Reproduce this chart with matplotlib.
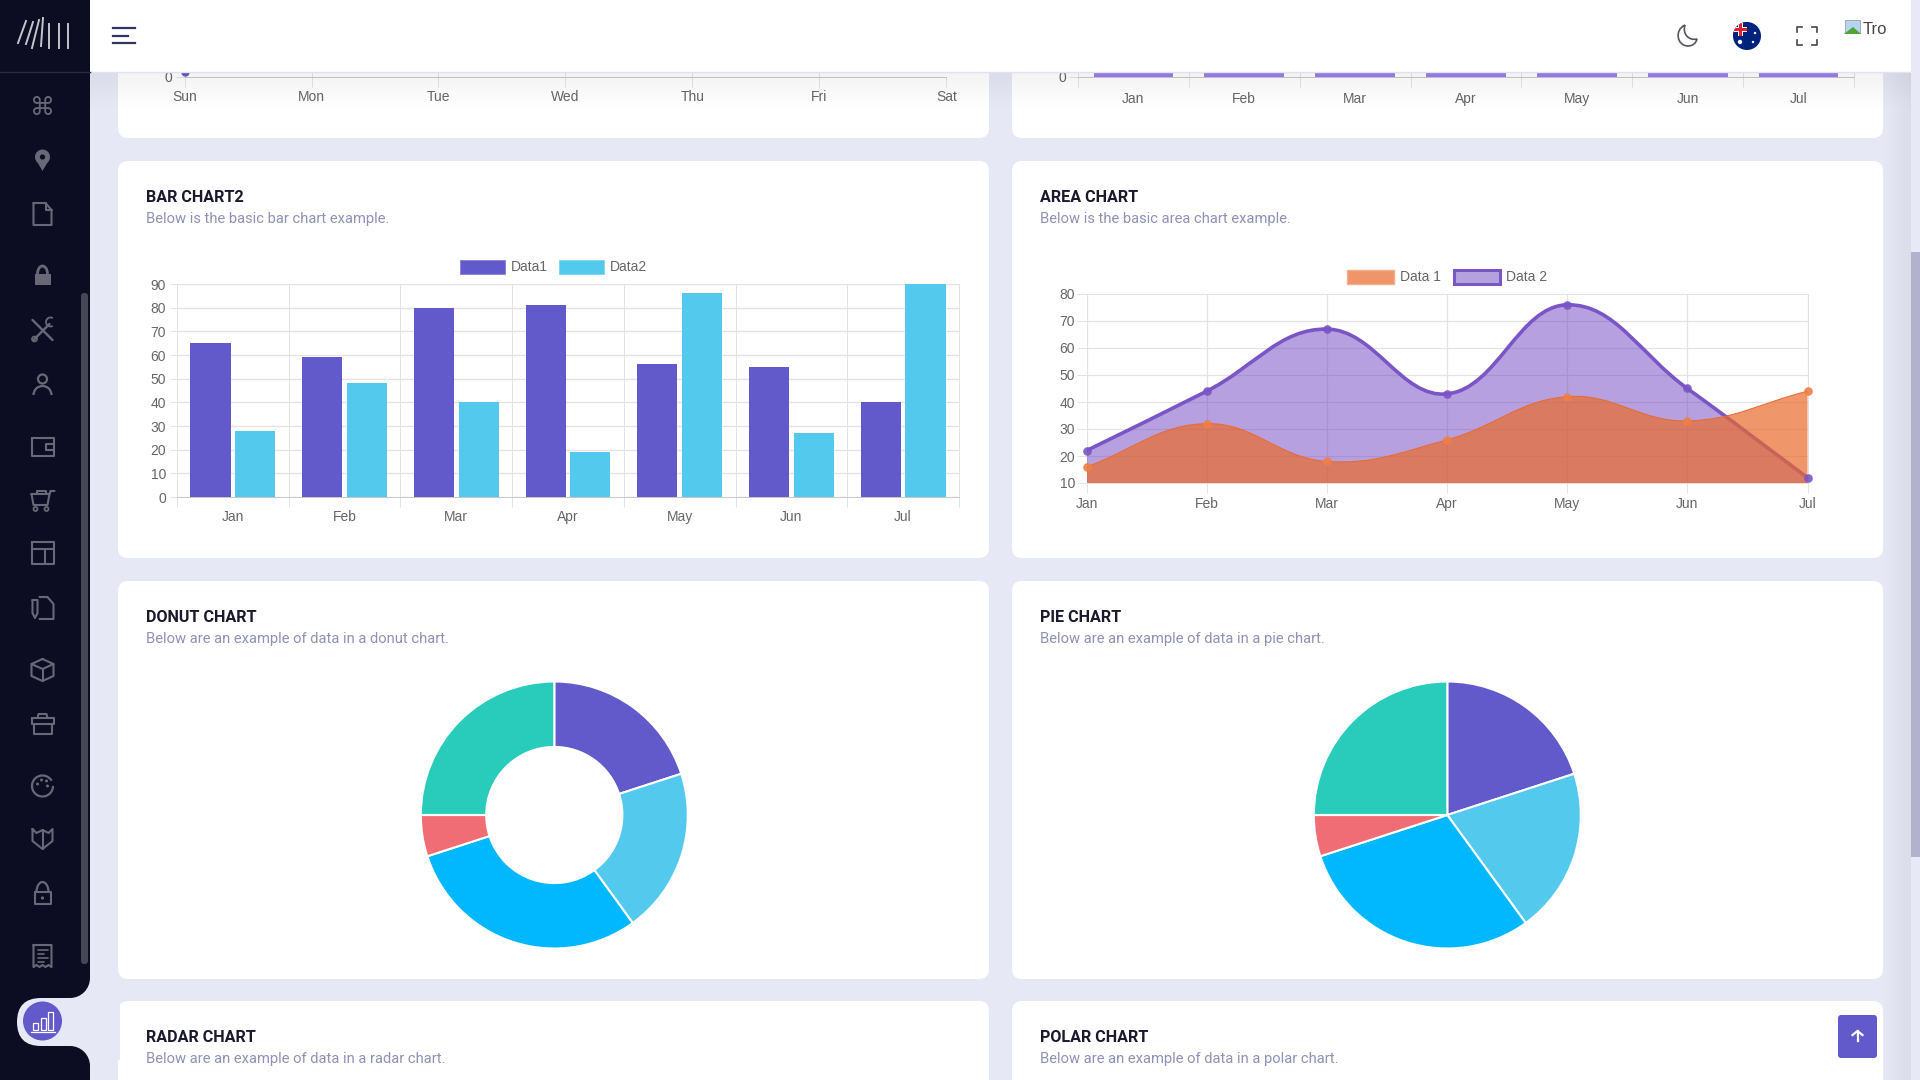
import numpy as np
import matplotlib
matplotlib.use('Agg')
import matplotlib.pyplot as plt
from matplotlib.patches import Rectangle, Circle, FancyBboxPatch, PathPatch, Polygon, Arc
from matplotlib.path import Path

W, H = 1920, 1080

# chart values
months = ['Jan', 'Feb', 'Mar', 'Apr', 'May', 'Jun', 'Jul']
weekdays = ['Sun', 'Mon', 'Tue', 'Wed', 'Thu', 'Fri', 'Sat']
bar_data1 = [65, 59, 80, 81, 56, 55, 40]
bar_data2 = [28, 48, 40, 19, 86, 27, 90]
area_data1 = [16, 32, 18, 26, 42, 33, 44]
area_data2 = [22, 44, 67, 43, 76, 45, 12]
pie_values = [20, 20, 30, 5, 25]
pie_colors = ['#6259ca', '#53caed', '#01b8ff', '#f16d75', '#29ccbb']
top_bars = [65, 59, 80, 81, 56, 55, 40]   # only the foot of these shows
top_point = [5]

BG = '#e6e9f5'
SIDE = '#0c0d22'
PURPLE = '#6259ca'
CYAN = '#53caed'
GRID = '#e3e3e3'
TICK = '#666666'
ICON = '#686876'
SANS = 'Liberation Sans'
PX = 0.72  # one pixel in points at dpi 100

fig = plt.figure(figsize=(W/100, H/100), dpi=100, facecolor=BG)


def px_axes(left, top, right, bottom, z=1):
    ax = fig.add_axes([left/W, 1-bottom/H, (right-left)/W, (bottom-top)/H], zorder=z)
    ax.patch.set_alpha(0)
    return ax


def overlay(z):
    ax = fig.add_axes([0, 0, 1, 1], zorder=z)
    ax.set_xlim(0, W)
    ax.set_ylim(H, 0)
    ax.axis('off')
    return ax


def card(ax, left, top, right, bottom):
    ax.add_patch(FancyBboxPatch((left, top), right-left, bottom-top, boxstyle='round,pad=0,rounding_size=10',
                                fc='white', ec='none'))


def heading(ax, x, y, title, sub):
    ax.text(x, y+1.5, title, family='Roboto', weight='bold', fontsize=11.6, color='#1a1a2c', va='center')
    ax.text(x, y+23.5, sub, family='Roboto', fontsize=10.6, color='#8f91b5', va='center')


def style_axes(ax):
    for s in ax.spines.values():
        s.set_color(GRID)
        s.set_linewidth(PX)
    ax.set_axisbelow(True)
    ax.tick_params(axis='both', color=GRID, width=PX, labelcolor=TICK, labelsize=10)
    for lab in ax.get_xticklabels(which='both') + ax.get_yticklabels():
        lab.set_family(SANS)


def category_axis(ax, labels, pad=9.7):
    # gridlines on the category edges, labels in the middle
    n = len(labels)
    ax.set_xlim(-0.5, n-0.5)
    ax.set_xticks(np.arange(n+1)-0.5)
    ax.set_xticklabels([])
    ax.set_xticks(np.arange(n), minor=True)
    ax.set_xticklabels(labels, minor=True)
    ax.tick_params(axis='x', which='major', length=7.2)
    ax.tick_params(axis='x', which='minor', length=0, pad=pad, labelsize=10, labelcolor=TICK)
    ax.grid(True, which='major', color=GRID, lw=PX)


def spline_path(xs, ys, sx, sy, tension=0.4):
    # same bezier handles chart.js works out, distances measured in pixels
    xs = np.array(xs, float)
    ys = np.array(ys, float)
    n = len(xs)
    verts = [(xs[0], ys[0])]
    codes = [Path.MOVETO]
    cp_in = []
    cp_out = []
    for i in range(n):
        p = max(i-1, 0)
        q = min(i+1, n-1)
        d01 = np.hypot((xs[i]-xs[p])*sx, (ys[i]-ys[p])*sy)
        d12 = np.hypot((xs[q]-xs[i])*sx, (ys[q]-ys[i])*sy)
        total = d01 + d12
        fa = tension*d01/total
        fb = tension*d12/total
        cp_in.append((xs[i]-fa*(xs[q]-xs[p]), ys[i]-fa*(ys[q]-ys[p])))
        cp_out.append((xs[i]+fb*(xs[q]-xs[p]), ys[i]+fb*(ys[q]-ys[p])))
    for i in range(n-1):
        verts += [cp_out[i], cp_in[i+1], (xs[i+1], ys[i+1])]
        codes += [Path.CURVE4]*3
    return verts, codes


def legend_item(ax, x0, x1, y0, y1, fc, ec, lw, label, tx):
    ax.add_patch(Rectangle((x0, y0), x1-x0, y1-y0, fc=fc, ec=ec, lw=lw))
    ax.text(tx, (y0+y1)/2, label, family=SANS, fontsize=10, color=TICK, va='center')


base = overlay(0)

# cards
for l, r in [(118, 989), (1012, 1883)]:
    card(base, l, 40, r, 138)
    card(base, l, 161, r, 558)
    card(base, l, 581, r, 979)
    card(base, l, 1001, r, 1200)

heading(base, 146.5, 196, 'BAR CHART2', 'Below is the basic bar chart example.')
heading(base, 1040, 196, 'AREA CHART', 'Below is the basic area chart example.')
heading(base, 146.5, 616, 'DONUT CHART', 'Below are an example of data in a donut chart.')
heading(base, 1040, 616, 'PIE CHART', 'Below are an example of data in a pie chart.')
heading(base, 146.5, 1036, 'RADAR CHART', 'Below are an example of data in a radar chart.')
heading(base, 1040, 1036, 'POLAR CHART', 'Below are an example of data in a polar chart.')

# line chart cut off by the header
ax = px_axes(184.5, 72, 946.5, 77)
ax.plot([0], top_point, 'o', color=PURPLE, ms=5, clip_on=False)
ax.set_xlim(0, 6)
ax.set_ylim(0, 5)
ax.set_xticks(range(7))
ax.set_xticklabels(weekdays)
ax.set_yticks([0])
ax.set_yticklabels(['0'])
ax.grid(True, axis='x', color=GRID, lw=PX)
style_axes(ax)
ax.spines['bottom'].set_color('#c9c9c9')
ax.spines['top'].set_visible(False)
ax.spines['left'].set_visible(False)
ax.spines['right'].set_visible(False)
ax.tick_params(axis='x', length=7.2, pad=2.2)
ax.tick_params(axis='y', length=6.5, pad=2)

# bar chart cut off by the header
ax = px_axes(1078, 72, 1854, 77)
ax.bar(range(7), top_bars, width=0.72, color='#9b7ff0', zorder=3)
category_axis(ax, months, pad=11)
ax.set_ylim(0, 5)
ax.set_yticks([0])
ax.set_yticklabels(['0'])
style_axes(ax)
ax.spines['bottom'].set_color('#c9c9c9')
ax.spines['top'].set_visible(False)
ax.tick_params(axis='y', length=6.5, pad=2)

# bar chart 2
ax = px_axes(177, 284, 959, 497)
x = np.arange(len(months))
ax.bar(x-0.2, bar_data1, width=0.36, color=PURPLE, zorder=3)
ax.bar(x+0.2, bar_data2, width=0.36, color=CYAN, zorder=3)
category_axis(ax, months)
ax.set_ylim(0, 90)
ax.set_yticks(range(0, 100, 10))
ax.grid(True, axis='y', color=GRID, lw=PX*1.3)
style_axes(ax)
ax.spines['bottom'].set_color('#c9c9c9')
ax.tick_params(axis='y', length=5, pad=3)
legend_item(base, 459.5, 504.5, 260, 274, PURPLE, '#8d86dc', 0.7, 'Data1', 511)
legend_item(base, 558.5, 603.5, 260, 274, CYAN, '#7fd9f2', 0.7, 'Data2', 610)

# area chart
ax = px_axes(1086.5, 294, 1807.5, 483)
ax.set_xlim(0, 6)
ax.set_ylim(10, 80)
sx = (1807.5-1086.5)/6
sy = (483-294)/70
xi = list(range(len(months)))
for vals, fill, alpha, line, lw, mc, z in [(area_data2, '#6f42c1', 0.5, '#7a55c5', 3.6*PX, '#7a55c5', 3),
                                           (area_data1, '#ea6a2c', 0.7, '#ea6a2c', PX, '#ef7f45', 4)]:
    v, c = spline_path(xi, vals, sx, sy)
    closed_v = v + [(xi[-1], 10), (xi[0], 10), v[0]]
    closed_c = c + [Path.LINETO, Path.LINETO, Path.CLOSEPOLY]
    ax.add_patch(PathPatch(Path(closed_v, closed_c), fc=fill, ec='none', alpha=alpha, zorder=z))
    ax.add_patch(PathPatch(Path(v, c), fc='none', ec=line, lw=lw, zorder=z, capstyle='round'))
    ax.plot(xi, vals, 'o', color=mc, ms=6.2, mew=0, alpha=0.9, zorder=z+2, clip_on=False)
ax.set_xticks(xi)
ax.set_xticklabels(months)
ax.set_yticks(range(10, 90, 10))
ax.grid(True, color=GRID, lw=PX*1.2)
style_axes(ax)
ax.tick_params(axis='x', length=7.2, pad=3)
ax.tick_params(axis='y', length=7.2, pad=1)
legend_item(base, 1347, 1393.5, 270, 284, '#f0956a', '#f5b08c', 1, 'Data 1', 1400)
legend_item(base, 1454, 1500, 270, 284, '#b5a3dd', '#7a55c5', 2.2, 'Data 2', 1506.5)

# donut and pie
for cx, hole in [(554.3, 0.51), (1447.3, None)]:
    r = 133.5
    ax = px_axes(cx-r, 815-r, cx+r, 815+r)
    props = {'edgecolor': 'white', 'linewidth': 1.5}
    if hole:
        props['width'] = 1-hole
    ax.pie(pie_values, colors=pie_colors, startangle=90, counterclock=False, radius=1,
           wedgeprops=props)
    ax.set_xlim(-1, 1)
    ax.set_ylim(-1, 1)

# page chrome on top of everything
top = overlay(5)

# soft shadow the header throws on the page
shade = np.zeros((40, 1, 4))
shade[:, 0, 3] = np.linspace(0.05, 0, 40)
top.imshow(shade, extent=(90, 1911, 112, 72), aspect='auto', zorder=0)
side_shade = np.zeros((1, 30, 4))
side_shade[0, :, 3] = np.linspace(0, 0.05, 30)
top.imshow(side_shade, extent=(1881, 1911, 1080, 72), aspect='auto', zorder=0)
top.set_xlim(0, W)
top.set_ylim(H, 0)

top.add_patch(Rectangle((90, 0), 1821, 72, fc='white', ec='none', zorder=1))
top.plot([90, 1911], [72, 72], color='#dfe2f2', lw=1, zorder=1)

# right scrollbar
top.add_patch(Rectangle((1911, 0), 9, H, fc='#e8e8f6', ec='none', zorder=1))
top.add_patch(Rectangle((1911, 252), 9, 605, fc='#b2b2cc', ec='none', zorder=1))

# sidebar with the notch around the active item
top.add_patch(Rectangle((0, 0), 90, H, fc=SIDE, ec='none', zorder=1))
top.plot([0, 90], [72, 72], color='#2a2b40', lw=1, zorder=2)
top.add_patch(Rectangle((68, 978), 22, 88, fc=BG, ec='none', zorder=2))
top.add_patch(Circle((70, 978), 20, fc=SIDE, ec='none', zorder=2))
top.add_patch(Circle((70, 1066), 20, fc=SIDE, ec='none', zorder=2))
top.add_patch(FancyBboxPatch((17, 998), 100, 48, boxstyle='round,pad=0,rounding_size=24',
                             fc=BG, ec='none', zorder=2, clip_box=None))
top.add_patch(Rectangle((90, 990), 30, 70, fc=BG, ec='none', zorder=2))
top.add_patch(Circle((42.5, 1021), 19.5, fc=PURPLE, ec='none', zorder=3))
for bx, by in [(33, 1023), (41, 1018), (48, 1012)]:
    top.add_patch(Rectangle((bx, by), 4.5, 1030-by, fc='none', ec='white', lw=0.9, zorder=4))
top.plot([31, 55], [1032, 1032], color='white', lw=0.9, zorder=4)
top.add_patch(FancyBboxPatch((81, 293), 7, 671, boxstyle='round,pad=0,rounding_size=3',
                             fc='#474657', ec='none', zorder=3))

# logo
for (x0, y0), (x1, y1) in [((18, 43), (26, 21)), ((26, 44), (33, 22)), ((32, 48), (39, 20)), ((41, 46), (43, 18)),
                           ((49, 48), (49, 24)), ((59, 48), (59, 24)), ((68, 48), (68, 24))]:
    top.plot([x0, x1], [y0, y1], color='#c4c4cc', lw=1.4, zorder=3)


def stroke(pts, cx, cy, lw=1.5, closed=False):
    xs = [cx+p[0] for p in pts]
    ys = [cy+p[1] for p in pts]
    if closed:
        xs.append(xs[0])
        ys.append(ys[0])
    top.plot(xs, ys, color=ICON, lw=lw, zorder=3, solid_joinstyle='round', solid_capstyle='round')


def solid(pts, cx, cy):
    top.add_patch(Polygon([(cx+p[0], cy+p[1]) for p in pts], fc=ICON, ec='none', zorder=3))


ix = 42.5
top.text(ix, 108, '\u2318', family='DejaVu Sans', fontsize=18, color=ICON, ha='center', va='center', zorder=3)
# pin
top.add_patch(Circle((ix, 157), 7.5, fc=ICON, ec='none', zorder=3))
solid([(-7, 159), (7, 159), (0, 171)], ix, 0)
top.add_patch(Circle((ix, 157), 2.6, fc=SIDE, ec='none', zorder=3))
# file
stroke([(-9, -11), (3, -11), (9, -4), (9, 11), (-9, 11)], ix, 214, closed=True)
stroke([(3, -11), (3, -4), (9, -4)], ix, 214)
# lock
top.add_patch(Rectangle((ix-8, 274), 16, 11, fc=ICON, ec='none', zorder=3))
top.add_patch(Arc((ix, 274), 10, 16, theta1=180, theta2=360, color=ICON, lw=2, zorder=3))
# tools
stroke([(-10, -10), (10, 10)], ix, 330, lw=1.7)
stroke([(-9, 10), (7, -6)], ix, 330, lw=1.7)
top.add_patch(Arc((ix+8, 322), 9, 9, theta1=60, theta2=300, color=ICON, lw=1.3, zorder=3))
top.add_patch(Circle((ix-8, 339), 2.5, fc='none', ec=ICON, lw=1.2, zorder=3))
# person
top.add_patch(Circle((ix, 379), 4.5, fc='none', ec=ICON, lw=1.6, zorder=3))
top.add_patch(Arc((ix, 395), 18, 18, theta1=180, theta2=360, color=ICON, lw=1.6, zorder=3))
# wallet
stroke([(-11, -9), (11, -9), (11, 9), (-11, 9)], ix, 447, closed=True)
stroke([(11, -3), (3, -3), (3, 3), (11, 3)], ix, 447)
# cart
stroke([(-11, -6), (7, -6), (5, 5), (-9, 5)], ix, 500, closed=True)
stroke([(7, -6), (8, -9), (12, -9)], ix, 500)
stroke([(-6, -6), (-6, -9), (3, -9), (3, -6)], ix, 500)
top.add_patch(Circle((ix-7, 509), 2, fc='none', ec=ICON, lw=1.3, zorder=3))
top.add_patch(Circle((ix+4, 509), 2, fc='none', ec=ICON, lw=1.3, zorder=3))
# layout
stroke([(-11, -11), (11, -11), (11, 11), (-11, 11)], ix, 553, closed=True)
stroke([(-11, -4), (11, -4)], ix, 553)
stroke([(2, -4), (2, 11)], ix, 553)
# file with pen
stroke([(-3, -11), (5, -11), (11, -4), (11, 11), (-3, 11)], ix, 608)
stroke([(-10, -8), (-5, -8), (-5, 5), (-7.5, 10), (-10, 5)], ix, 608, closed=True)
# box
stroke([(0, -11), (11, -6), (11, 6), (0, 11), (-11, 6), (-11, -6)], ix, 670, closed=True)
stroke([(-11, -6), (0, -1), (11, -6)], ix, 670)
stroke([(0, -1), (0, 11)], ix, 670)
# briefcase
stroke([(-11, -6), (11, -6), (11, 0), (-11, 0)], ix, 724, closed=True)
stroke([(-9, 0), (-9, 10), (9, 10), (9, 0)], ix, 724)
stroke([(-5, -6), (-4, -10), (4, -10), (5, -6)], ix, 724)
# palette
top.add_patch(Arc((ix, 786), 21, 21, theta1=0, theta2=330, color=ICON, lw=1.6, zorder=3))
for dx, dy in [(-5, -2), (-1, -6), (4, -5), (5, 0)]:
    top.add_patch(Circle((ix+dx, 786+dy), 1.5, fc=ICON, ec='none', zorder=3))
# shield
stroke([(-10, -10), (-6, -6), (0, -9), (6, -6), (10, -10), (10, 2), (0, 10), (-10, 2)], ix, 839, closed=True)
stroke([(0, -9), (0, 10)], ix, 839)
# padlock
stroke([(-8, -2), (8, -2), (8, 10), (-8, 10)], ix, 894, closed=True)
top.add_patch(Arc((ix, -2+894), 12, 20, theta1=180, theta2=360, color=ICON, lw=1.6, zorder=3))
top.add_patch(Circle((ix, 898), 1.6, fc=ICON, ec='none', zorder=3))
# receipt
stroke([(-9, -11), (9, -11), (9, 11), (6, 9), (3, 11), (0, 9), (-3, 11), (-6, 9), (-9, 11)], ix, 956, closed=True)
for dy, hw in [(-6, 5), (-2, 3), (2, 5), (6, 3)]:
    stroke([(-5, dy), (-5+2*hw, dy)], ix, 956, lw=1.2)

# hamburger
for y, x1 in [(28, 135), (35.6, 128), (42.7, 135)]:
    top.plot([113, x1], [y, y], color='#2e3560', lw=1.6, zorder=3)

# moon
moon = Path([(1685, 25), (1674, 30), (1677, 46), (1688, 46), (1693, 46), (1696, 43), (1697, 39),
             (1689, 41), (1682, 34), (1685, 25)],
            [Path.MOVETO] + [Path.CURVE4]*9)
top.add_patch(PathPatch(moon, fc='none', ec='#55555f', lw=1.2, zorder=3))

# flag
disc = Circle((1747, 36), 14, fc='#00247d', ec='none', zorder=3)
top.add_patch(disc)
parts = [Rectangle((1733, 22), 14, 14, fc='#00247d', zorder=4),
         Rectangle((1733, 27), 14, 5, fc='white', zorder=4),
         Rectangle((1738, 22), 5, 14, fc='white', zorder=4),
         Rectangle((1733, 28), 14, 3, fc='#e0202c', zorder=5),
         Rectangle((1739, 22), 3, 14, fc='#e0202c', zorder=5),
         Circle((1740, 42), 2.2, fc='white', zorder=4),
         Circle((1755, 33), 1.2, fc='white', zorder=4),
         Circle((1753, 42), 1.2, fc='white', zorder=4)]
for p in parts:
    top.add_patch(p)
    p.set_clip_path(disc)

# fullscreen
for (a, b, c) in [((1797, 32), (1797, 27), (1802, 27)), ((1812, 27), (1817, 27), (1817, 32)),
                  ((1817, 40), (1817, 45), (1812, 45)), ((1802, 45), (1797, 45), (1797, 40))]:
    top.plot([a[0], b[0], c[0]], [a[1], b[1], c[1]], color='#444450', lw=1.2, zorder=3)

# broken image placeholder
top.add_patch(Rectangle((1845, 20), 15, 13, fc='#b6d3f0', ec='#9aa0a8', lw=0.6, zorder=3))
top.add_patch(Polygon([(1844, 34), (1853, 27), (1861, 34)], fc='#4ca535', ec='none', zorder=4))
top.text(1863, 29, 'Tro', family=SANS, fontsize=12, color='#444444', va='center', zorder=4)

# back to top
top.add_patch(FancyBboxPatch((1838, 1015), 39, 43, boxstyle='round,pad=0,rounding_size=3',
                             fc=PURPLE, ec='none', zorder=3))
top.plot([1857.5, 1857.5], [1031, 1041], color='white', lw=1.6, zorder=4)
top.plot([1852.5, 1857.5, 1862.5], [1035, 1031, 1035], color='white', lw=1.6, zorder=4)

fig.savefig('out.png', dpi=100, facecolor=BG)
